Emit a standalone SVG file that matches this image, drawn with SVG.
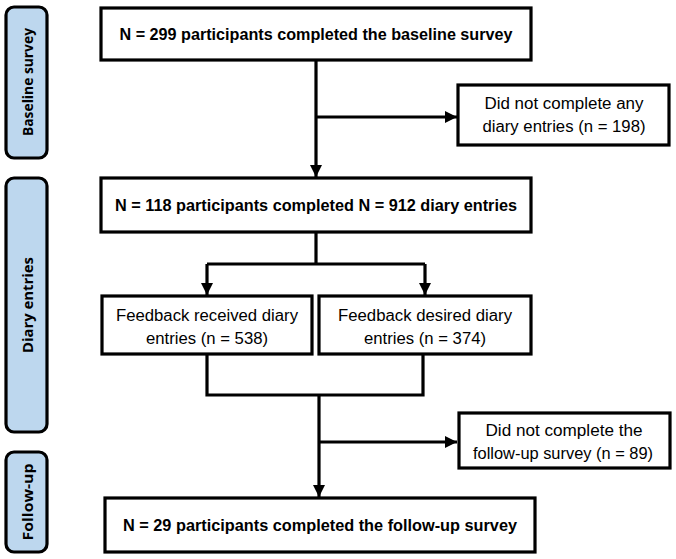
<svg xmlns="http://www.w3.org/2000/svg" width="676" height="559" viewBox="0 0 676 559">
<style>
.box{fill:#fff;stroke:#000;stroke-width:3.2}
.lab{fill:#bdd7ee;stroke:#000;stroke-width:3.2}
.ln{fill:none;stroke:#000;stroke-width:3.2}
.tb{font-family:"Liberation Sans",Arial,sans-serif;font-weight:bold;font-size:16px;text-anchor:middle;fill:#000}
.tr{font-family:"Liberation Sans",Arial,sans-serif;font-size:16px;text-anchor:middle;fill:#000}
.tl{font-family:"Open Sans","DejaVu Sans",sans-serif;font-weight:bold;font-size:14.5px;text-anchor:middle;fill:#000}
</style>
<defs>
<marker id="ah" markerUnits="userSpaceOnUse" markerWidth="12" markerHeight="12" viewBox="0 0 12 12" refX="12" refY="6" orient="auto">
<path d="M0,0 L12,6 L0,12 Z" fill="#000"/>
</marker>
</defs>
<g id="lbl-baseline">
<rect class="lab" x="6" y="7" width="41" height="151" rx="8"/>
<text class="tl" transform="translate(32.5,82) rotate(-90)" textLength="108" lengthAdjust="spacingAndGlyphs">Baseline survey</text>
</g>
<g id="lbl-diary">
<rect class="lab" x="6" y="178" width="41" height="254" rx="8"/>
<text class="tl" transform="translate(32.5,305) rotate(-90)" textLength="96" lengthAdjust="spacingAndGlyphs">Diary entries</text>
</g>
<g id="lbl-followup">
<rect class="lab" x="6" y="452" width="41" height="100" rx="8"/>
<text class="tl" transform="translate(32.5,502) rotate(-90)" textLength="77" lengthAdjust="spacingAndGlyphs">Follow-up</text>
</g>
<g id="connectors">
<line class="ln" x1="316" y1="60" x2="316" y2="177" marker-end="url(#ah)"/>
<line class="ln" x1="316" y1="117" x2="457" y2="117" marker-end="url(#ah)"/>
<polyline class="ln" points="316,232 316,264"/>
<polyline class="ln" points="207,264 425,264"/>
<line class="ln" x1="207" y1="264" x2="207" y2="295" marker-end="url(#ah)"/>
<line class="ln" x1="425" y1="264" x2="425" y2="295" marker-end="url(#ah)"/>
<polyline class="ln" points="207,354 207,395 423,395 423,354"/>
<line class="ln" x1="319" y1="395" x2="319" y2="497" marker-end="url(#ah)"/>
<line class="ln" x1="319" y1="442" x2="457" y2="442" marker-end="url(#ah)"/>
</g>
<g id="n1">
<rect class="box" x="101" y="8" width="430" height="52"/>
<text class="tb" x="316" y="40" textLength="393" lengthAdjust="spacingAndGlyphs">N = 299 participants  completed the baseline survey</text>
</g>
<g id="n2">
<rect class="box" x="458" y="85" width="211" height="60"/>
<text class="tr" x="564" y="109" textLength="159" lengthAdjust="spacingAndGlyphs">Did not complete any</text>
<text class="tr" x="564" y="132" textLength="163" lengthAdjust="spacingAndGlyphs">diary entries (n = 198)</text>
</g>
<g id="n3">
<rect class="box" x="101" y="178" width="430" height="54"/>
<text class="tb" x="316" y="211" textLength="402" lengthAdjust="spacingAndGlyphs">N = 118 participants  completed N = 912 diary entries</text>
</g>
<g id="n4">
<rect class="box" x="102" y="296" width="210" height="58"/>
<text class="tr" x="207" y="321" textLength="182" lengthAdjust="spacingAndGlyphs">Feedback received diary</text>
<text class="tr" x="207" y="344" textLength="122" lengthAdjust="spacingAndGlyphs">entries (n = 538)</text>
</g>
<g id="n5">
<rect class="box" x="319" y="296" width="212" height="58"/>
<text class="tr" x="425" y="321" textLength="174" lengthAdjust="spacingAndGlyphs">Feedback desired diary</text>
<text class="tr" x="425" y="344" textLength="122" lengthAdjust="spacingAndGlyphs">entries (n = 374)</text>
</g>
<g id="n6">
<rect class="box" x="459" y="413" width="211" height="55"/>
<text class="tr" x="564" y="436" textLength="157" lengthAdjust="spacingAndGlyphs">Did not complete the</text>
<text class="tr" x="563" y="459" textLength="180" lengthAdjust="spacingAndGlyphs">follow-up survey (n = 89)</text>
</g>
<g id="n7">
<rect class="box" x="105" y="498" width="430" height="54"/>
<text class="tb" x="320" y="531" textLength="394" lengthAdjust="spacingAndGlyphs">N = 29 participants  completed the follow-up survey</text>
</g>
</svg>
